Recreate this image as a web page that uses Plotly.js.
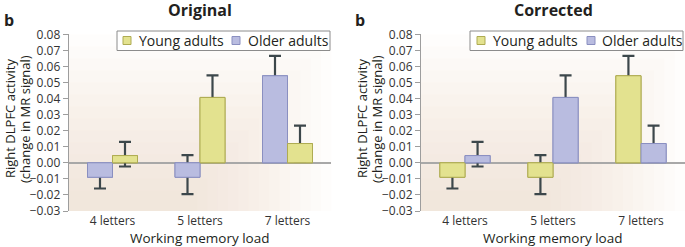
<!DOCTYPE html>
<html><head><meta charset="utf-8">
<script src="https://cdn.plot.ly/plotly-3.0.1.min.js"></script>
<style>html,body{margin:0;padding:0;background:#fff}#chart{width:685px;height:247px}</style>
</head><body><div id="chart"></div>
<script>
// ---------- data ----------
const categories = ['4 letters', '5 letters', '7 letters'];
const seriesNames = ['Young adults', 'Older adults'];
const panelTitles = ['Original', 'Corrected'];
const panelLetter = 'b';
const xAxisTitle = 'Working memory load';
const yTitleLine1 = 'Right DLPFC activity';
const yTitleLine2 = '(change in MR signal)';
const yTickVals = [-0.03, -0.02, -0.01, 0.00, 0.01, 0.02, 0.03, 0.04, 0.05, 0.06, 0.07, 0.08];

// Original panel (older drawn first in each group)
const origOlder = [-0.009, -0.009, 0.0542];
const origOlderErrPlus = [0.007, 0.0138, 0.0124];
const origOlderErrMinus = [0.007, 0.0105, 0.0124];
const origYoung = [0.0045, 0.0407, 0.012];
const origYoungErrPlus = [0.0085, 0.0137, 0.0112];
const origYoungErrMinus = [0.0068, 0.0137, 0.0112];

// Corrected panel (young drawn first in each group)
const corrYoung = [-0.009, -0.009, 0.0542];
const corrYoungErrPlus = [0.007, 0.0138, 0.0124];
const corrYoungErrMinus = [0.007, 0.0105, 0.0124];
const corrOlder = [0.0045, 0.0407, 0.012];
const corrOlderErrPlus = [0.0085, 0.0137, 0.0112];
const corrOlderErrMinus = [0.0068, 0.0137, 0.0112];

// ---------- styles ----------
const W = 685, H = 247;
const FONT = 'Open Sans, Noto Sans, sans-serif';
const yellow = {fill: '#e3e28f', line: '#aeab52'};
const blue = {fill: '#b9bce0', line: '#8a8fc0'};
const errColor = '#3c474b';
const px = v => v / W;
const py = v => 1 - v / H;

function barPair(y, plus, minus, col, name, og, xa, ya) {
  const withErr = {
    type: 'bar', x: categories, y: y, name: name, offsetgroup: og,
    xaxis: xa, yaxis: ya, showlegend: false, hoverinfo: 'skip',
    marker: {color: col.fill, line: {color: col.line, width: 1}},
    error_y: {type: 'data', symmetric: false, array: plus, arrayminus: minus,
              color: errColor, thickness: 2.2, width: 6}
  };
  const cover = {
    type: 'bar', x: categories, y: y, name: name, offsetgroup: og,
    xaxis: xa, yaxis: ya, showlegend: false,
    marker: {color: col.fill, line: {color: col.line, width: 1}}
  };
  return [withErr, cover];
}

const o1 = barPair(origOlder, origOlderErrPlus, origOlderErrMinus, blue, seriesNames[1], 'a', 'x', 'y');
const o2 = barPair(origYoung, origYoungErrPlus, origYoungErrMinus, yellow, seriesNames[0], 'b', 'x', 'y');
const c1 = barPair(corrYoung, corrYoungErrPlus, corrYoungErrMinus, yellow, seriesNames[0], 'a', 'x2', 'y2');
const c2 = barPair(corrOlder, corrOlderErrPlus, corrOlderErrMinus, blue, seriesNames[1], 'b', 'x2', 'y2');
const traces = [o1[0], o2[0], o1[1], o2[1], c1[0], c2[0], c1[1], c2[1]];

const yDomain = [1 - 211 / H, 1 - 34.3 / H];
const yAxisBase = {
  range: [-0.03, 0.08], domain: yDomain, tickvals: yTickVals, tickformat: '.2f',
  showgrid: false, showline: true, linecolor: '#9d9d9d', linewidth: 1,
  ticks: 'outside', ticklen: 5, tickcolor: '#9d9d9d', tickwidth: 1,
  zeroline: true, zerolinecolor: '#a8a8a8', zerolinewidth: 1.5,
  tickfont: {family: FONT, size: 12, color: '#333'}, automargin: false, fixedrange: true
};
const xAxisBase = {
  showgrid: false, showline: false, zeroline: false, ticks: '', ticklabelstandoff: 1,
  tickfont: {family: FONT, size: 12, color: '#333'}, automargin: false, fixedrange: true
};

// soft beige gradient in plot area (stepped)
function bgShapes(xa, ya) {
  const out = [];
  const N = 14;
  for (let i = 0; i < N; i++) {
    out.push({type: 'rect', layer: 'below', xref: xa + ' domain', yref: ya + ' domain',
      x0: 0, x1: 1 - 0.55 * i / N, y0: 0, y1: 1 - 0.95 * i / N,
      fillcolor: '#ede1cb', opacity: 0.05, line: {width: 0}});
  }
  return out;
}

function legendShapes(box, sq1, sq2, c1, c2) {
  return [
    {type: 'rect', xref: 'paper', yref: 'paper', x0: px(box[0]), x1: px(box[1]), y0: py(50.5), y1: py(31),
     fillcolor: '#ffffff', line: {color: '#8c8c8c', width: 1}},
    {type: 'rect', xref: 'paper', yref: 'paper', x0: px(sq1), x1: px(sq1 + 8), y0: py(44.5), y1: py(36.5),
     fillcolor: c1.fill, line: {color: c1.line, width: 1}},
    {type: 'rect', xref: 'paper', yref: 'paper', x0: px(sq2), x1: px(sq2 + 8), y0: py(44.5), y1: py(36.5),
     fillcolor: c2.fill, line: {color: c2.line, width: 1}}
  ];
}

const shapes = [].concat(
  bgShapes('x', 'y'), bgShapes('x2', 'y2'),
  legendShapes([117, 330], 123, 232, yellow, blue),
  legendShapes([470, 683], 477, 587, yellow, blue)
);

function txt(text, x, y, opts) {
  return Object.assign({text: text, x: px(x), y: py(y), xref: 'paper', yref: 'paper',
    showarrow: false, xanchor: 'center', yanchor: 'middle', borderpad: 0,
    font: {family: FONT, size: 13, color: '#231f20'}}, opts || {});
}

const annotations = [
  txt('<b>' + panelTitles[0] + '</b>', 200, 10, {font: {family: FONT, size: 16, color: '#231f20'}}),
  txt('<b>' + panelTitles[1] + '</b>', 553, 10, {font: {family: FONT, size: 16, color: '#231f20'}}),
  txt('<b>' + panelLetter + '</b>', 3, 20, {xanchor: 'left', font: {family: FONT, size: 16, color: '#231f20'}}),
  txt('<b>' + panelLetter + '</b>', 354, 20, {xanchor: 'left', font: {family: FONT, size: 16, color: '#231f20'}}),
  txt(yTitleLine1, 10, 119, {textangle: -90}),
  txt(yTitleLine2, 25, 119, {textangle: -90}),
  txt(yTitleLine1, 362, 119, {textangle: -90}),
  txt(yTitleLine2, 377, 119, {textangle: -90}),
  txt(xAxisTitle, 200, 238, {font: {family: FONT, size: 13.5, color: '#231f20'}}),
  txt(xAxisTitle, 553, 238, {font: {family: FONT, size: 13.5, color: '#231f20'}}),
  txt(seriesNames[0], 138, 40.5, {xanchor: 'left', font: {family: FONT, size: 14, color: '#231f20'}}),
  txt(seriesNames[1], 246.5, 40.5, {xanchor: 'left', font: {family: FONT, size: 14, color: '#231f20'}}),
  txt(seriesNames[0], 492, 40.5, {xanchor: 'left', font: {family: FONT, size: 14, color: '#231f20'}}),
  txt(seriesNames[1], 601, 40.5, {xanchor: 'left', font: {family: FONT, size: 14, color: '#231f20'}})
];

const layout = {
  width: W, height: H, margin: {l: 0, r: 0, t: 0, b: 0},
  paper_bgcolor: '#ffffff', plot_bgcolor: 'rgba(0,0,0,0)',
  barmode: 'group', bargap: 0.4286, bargroupgap: 0, showlegend: false,
  font: {family: FONT, color: '#231f20'},
  xaxis: Object.assign({}, xAxisBase, {domain: [68.75 / W, 331.25 / W], anchor: 'y'}),
  yaxis: Object.assign({}, yAxisBase, {anchor: 'x'}),
  xaxis2: Object.assign({}, xAxisBase, {domain: [421 / W, 685 / W], anchor: 'y2'}),
  yaxis2: Object.assign({}, yAxisBase, {anchor: 'x2'}),
  shapes: shapes, annotations: annotations
};

Plotly.newPlot('chart', traces, layout, {staticPlot: true, displayModeBar: false});
</script>
</body></html>
